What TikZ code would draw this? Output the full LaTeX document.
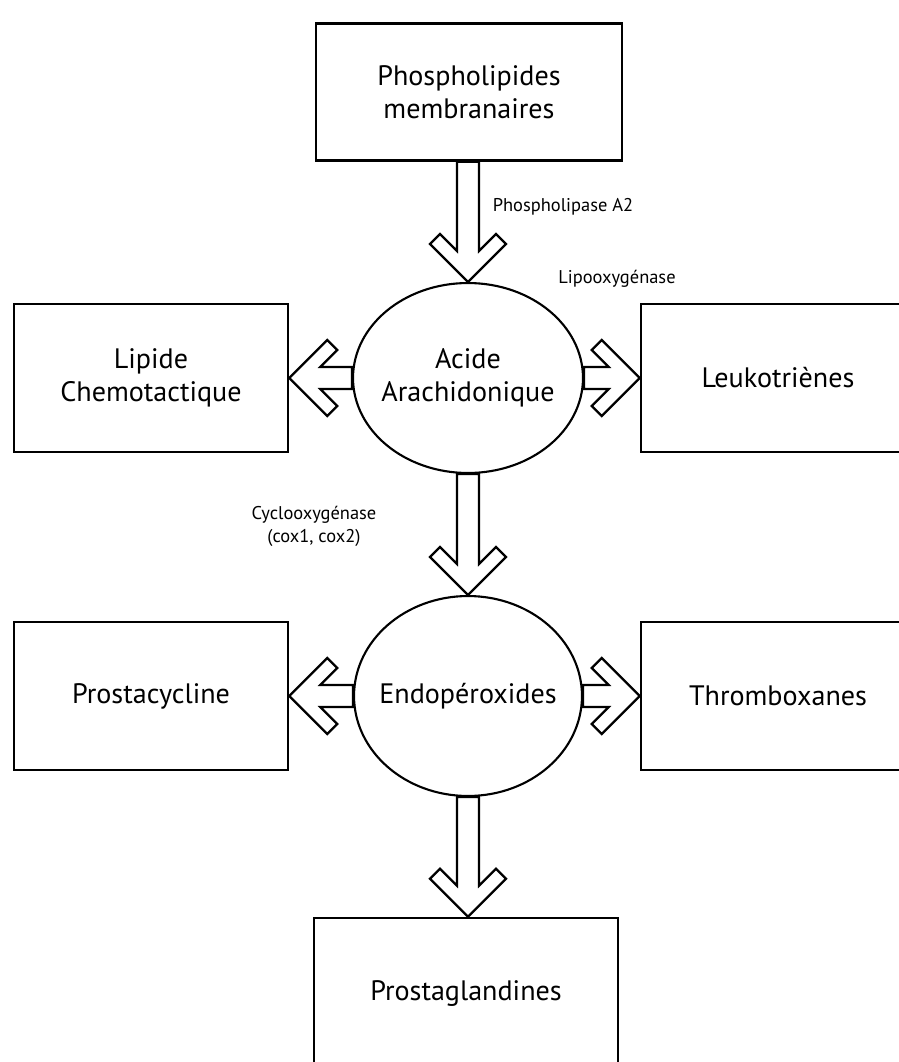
\documentclass[tikz,border=0pt]{standalone}
\usepackage{fontspec}
\setmainfont{PT Sans}
\usepackage{tikz}
\usetikzlibrary{calc,shapes.geometric}

% hollow block arrow from #1 to #2
\newcommand{\fatarrow}[2]{%
  \coordinate (fa-s) at #1;
  \coordinate (fa-t) at #2;
  \coordinate (fa-n) at ($(fa-t)!0.62cm!(fa-s)$);
  \coordinate (fa-o) at ($(fa-t)!0.76cm!(fa-s)$);
  \coordinate (fa-i) at ($(fa-t)!0.96cm!(fa-s)$);
  \draw[hollow] ($(fa-s)!0.22cm!90:(fa-t)$) -- ($(fa-n)!0.22cm!-90:(fa-s)$)
    -- ($(fa-i)!0.56cm!-90:(fa-s)$) -- ($(fa-o)!0.76cm!-90:(fa-s)$) -- (fa-t)
    -- ($(fa-o)!0.76cm!90:(fa-s)$) -- ($(fa-i)!0.56cm!90:(fa-s)$)
    -- ($(fa-n)!0.22cm!90:(fa-s)$) -- ($(fa-s)!0.22cm!-90:(fa-t)$) -- cycle;
}

\begin{document}
\begin{tikzpicture}[
  x=0.02cm,
  y=-0.02cm,
  box/.style={draw, line width=1.5pt, align=center, inner sep=0pt, font=\fontsize{16}{19}\selectfont},
  side/.style={box, minimum width=5.48cm, minimum height=2.96cm},
  oval/.style={draw, ellipse, line width=1.2pt, align=center, inner xsep=-8pt, inner ysep=0pt, font=\fontsize{16}{19}\selectfont},
  note/.style={align=center, inner sep=0pt, font=\fontsize{10.5}{13}\selectfont},
  hollow/.style={draw, line width=1.3pt, line join=miter}
]
  \useasboundingbox (0,0) rectangle (899,1062);

  \node[box, minimum width=6.12cm, minimum height=2.74cm] (phospho) at (469,92) {Phospholipides\\membranaires};
  \node[oval, minimum width=4.6cm, minimum height=3.8cm] (acide) at (468,378) {Acide\\Arachidonique};
  \node[side] (lipide) at (151,378) {Lipide\\Chemotactique};
  \node[side] (leuko) at (778,378) {Leukotriènes};

  \node[oval, minimum width=4.56cm, minimum height=4.0cm] (endo) at (468,696) {Endopéroxides};
  \node[side] (prosta) at (151,696) {Prostacycline};
  \node[side] (thrombo) at (778,696) {Thromboxanes};

  \node[box, minimum width=6.08cm, minimum height=3.04cm] (glandines) at (466,994) {Prostaglandines};

  \node[note] (pla) at (563,207) {Phospholipase A2};
  \node[note] (lipox) at (617,279) {Lipooxygénase};
  \node[note] (cox) at (314,526) {Cyclooxygénase\\(cox1, cox2)};

  \fatarrow{(phospho.south -| acide.north)}{(acide.north)}
  \fatarrow{(acide.west)}{(acide.west -| lipide.east)}
  \fatarrow{(acide.east)}{(acide.east -| leuko.west)}
  \fatarrow{(acide.south)}{(endo.north)}
  \fatarrow{(endo.west)}{(endo.west -| prosta.east)}
  \fatarrow{(endo.east)}{(endo.east -| thrombo.west)}
  \fatarrow{(endo.south)}{(endo.south |- glandines.north)}
\end{tikzpicture}
\end{document}
